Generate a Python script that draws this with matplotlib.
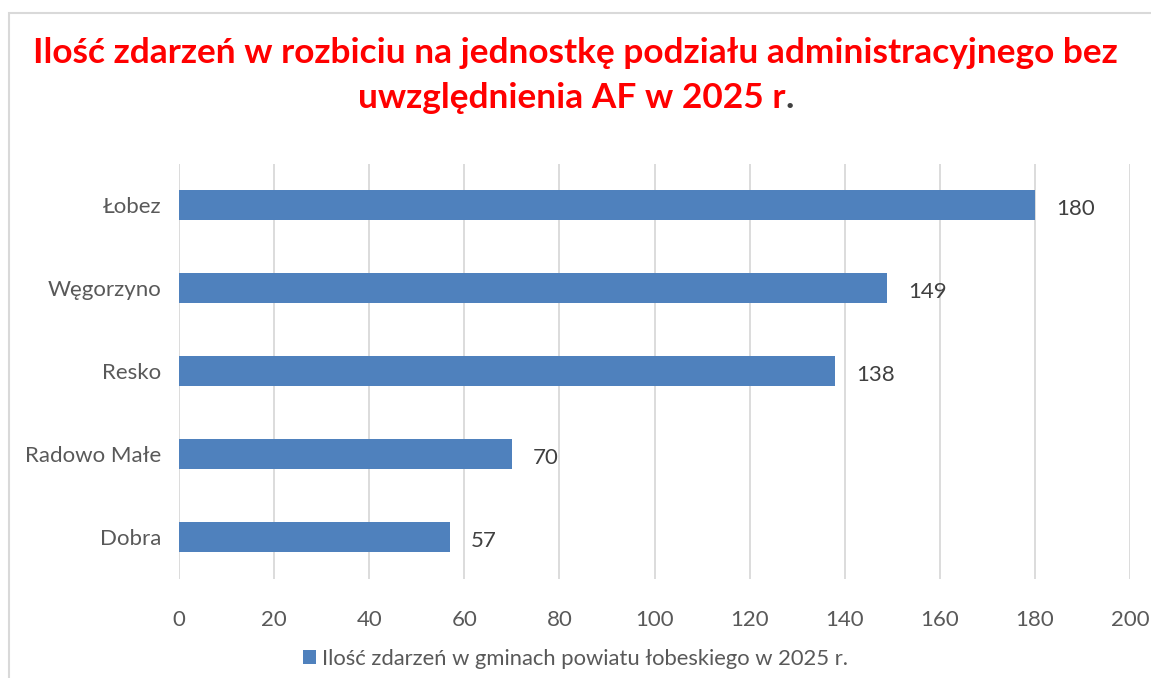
import matplotlib
matplotlib.use("Agg")
import matplotlib.pyplot as plt
from matplotlib.patches import Rectangle, Patch

categories = ["Łobez", "Węgorzyno", "Resko", "Radowo Małe", "Dobra"]
values = [180, 149, 138, 70, 57]
xticks = [0, 20, 40, 60, 80, 100, 120, 140, 160, 180, 200]
title_line1 = "Ilość zdarzeń w rozbiciu na jednostkę podziału administracyjnego bez"
title_line2 = "uwzględnienia AF w 2025 r"
legend_label = "Ilość zdarzeń w gminach powiatu łobeskiego w 2025 r."

W, H = 1151, 678
fig = plt.figure(figsize=(W / 100, H / 100), dpi=100)
plt.rcParams['font.family'] = ['Lato', 'DejaVu Sans']

# outer border
fig.patches.append(Rectangle((9 / W, -0.1), 1.2, (H - 13) / H + 0.1,
                             transform=fig.transFigure, fill=False,
                             edgecolor="#D9D9D9", linewidth=1.5))

FS = 16
ax = fig.add_axes([179 / W, 1 - 578.5 / H, (1130 - 179) / W, (578.5 - 163.5) / H])
bar_color = "#4F81BD"
ypos = list(range(len(categories)))
ax.barh(ypos, values, height=0.35, color=bar_color, zorder=3)
ax.set_ylim(len(categories) - 0.5, -0.5)
ax.set_yticks(ypos)
ax.set_yticklabels(categories, fontsize=FS, color="#595959")
ax.set_xlim(0, 200)
ax.set_xticks(xticks)
ax.set_xticklabels([str(t) for t in xticks], fontsize=FS, color="#595959")
ax.tick_params(axis='both', length=0)
ax.tick_params(axis='x', pad=23)
ax.tick_params(axis='y', pad=13)
ax.grid(axis='x', color="#D9D9D9", linewidth=1.3, zorder=0)
for s in ax.spines.values():
    s.set_visible(False)

for y, v in zip(ypos, values):
    ax.annotate(str(v), (v, y), xytext=(15, -3), textcoords='offset points',
                va='center', ha='left', fontsize=FS, color="#404040")

# title
TFS = 25.4
fig.text(0.5, 1 - 53 / H, title_line1, ha='center', va='center',
         fontsize=TFS, fontweight='bold', color="#FF0000")
fig.canvas.draw()
r = fig.canvas.get_renderer()
t2 = fig.text(0, 1 - 98 / H, title_line2, ha='left', va='center',
              fontsize=TFS, fontweight='bold', color="#FF0000")
dot = fig.text(0, 1 - 98 / H, ".", ha='left', va='center',
               fontsize=TFS, fontweight='bold', color="#404040")
w2 = t2.get_window_extent(r).width
wd = dot.get_window_extent(r).width
x0 = (W / 2 - (w2 + wd) / 2)
t2.set_x(x0 / W)
dot.set_x((x0 + w2) / W)

leg = fig.legend(handles=[Patch(facecolor=bar_color, edgecolor='none')],
                 labels=[legend_label], loc='center', bbox_to_anchor=(0.5, 1 - 659 / H),
                 frameon=False, fontsize=15.8, handlelength=0.6, handleheight=0.6,
                 handletextpad=0.25)
for t in leg.get_texts():
    t.set_color("#595959")

fig.savefig("out.png", dpi=100)
